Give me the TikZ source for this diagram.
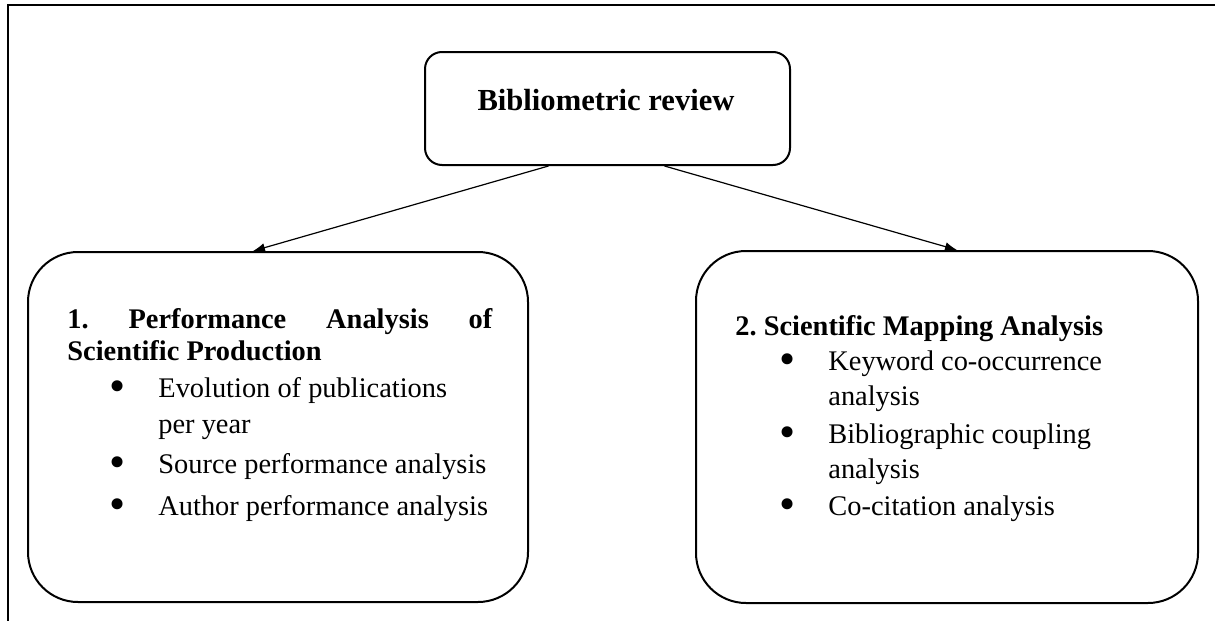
\documentclass[tikz,border=0pt]{standalone}
\usepackage{fontspec}
\setmainfont{Liberation Serif}
\usetikzlibrary{arrows.meta,calc}
\frenchspacing
\newcommand{\bul}{\raisebox{-2.3pt}{\fontsize{23}{23}\selectfont\textbullet}}
\newcommand{\itm}[1]{\llap{\makebox[0pt]{\bul}\hspace{20.5pt}}#1}

\begin{document}
\begin{tikzpicture}[
  x=0.5pt, y=-0.5pt,
  font=\fontsize{14.2}{17}\selectfont,
  box/.style={draw, line width=1pt, rounded corners=25pt, inner sep=0pt},
  headbox/.style={box, rounded corners=8.5pt, minimum width=182.5pt,
                  minimum height=56.5pt},
  branch/.style={box, minimum width=250pt, minimum height=175pt},
  txt/.style={anchor=base west, inner sep=0pt},
  e/.style={-{Latex[length=6pt,width=4.5pt]}, line width=0.6pt}]

% coordinates are pixels of the sketch, 0..1215 x 0..621
\useasboundingbox (0,0) rectangle (1215,621);
\draw[line width=1.25pt] (1215,5) -- (8,5) -- (8,621);

\node[headbox] (rev) at (607.5,108.5) {};
\node[anchor=base, inner sep=0pt, font=\fontsize{15.3}{18}\selectfont\bfseries]
      (revt) at (606,110) {Bibliometric review};

\node[branch] (perf) at (278,427) {};
\node[branch, minimum width=251pt, minimum height=176pt] (map) at (947,427) {};

\draw[e] ($(rev.south)+(-59,0)$) -- ($(perf.north)+(-25,0)$);
\draw[e] ($(rev.south)+(57,0)$) -- ($(map.north)+(10,0)$);

% --------------------------------- left branch ---
\node[txt, font=\fontsize{14.2}{17}\selectfont\bfseries] (perfh1) at (67,328)
      {\makebox[212.5pt][s]{1. Performance Analysis of}};
\node[txt, font=\fontsize{14.2}{17}\selectfont\bfseries] (perfh2) at (67,360)
      {Scientific Production};
\node[txt] (evo)  at (158,397) {\itm{Evolution of publications}};
\node[txt] (evo2) at (158,433) {per year};
\node[txt] (src)  at (158,473) {\itm{Source performance analysis}};
\node[txt] (aut)  at (158,515) {\itm{Author performance analysis}};

% --------------------------------- right branch ---
\node[txt, font=\fontsize{14.2}{17}\selectfont\bfseries] (maph) at (735,335)
      {2. Scientific Mapping Analysis};
\node[txt] (kw)   at (828,370) {\itm{Keyword co-occurrence}};
\node[txt] (kw2)  at (828,405) {analysis};
\node[txt] (bib)  at (828,443) {\itm{Bibliographic coupling}};
\node[txt] (bib2) at (828,478) {analysis};
\node[txt] (coc)  at (828,515) {\itm{Co-citation analysis}};

\end{tikzpicture}
\end{document}
